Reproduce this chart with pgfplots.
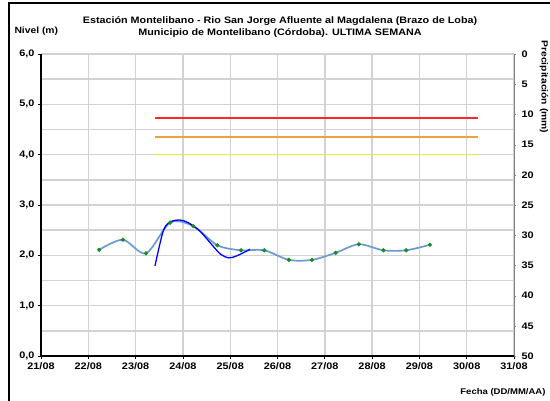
\documentclass[border=0pt]{standalone}
\usepackage{pgfplots}
\pgfplotsset{compat=1.18}
\usepackage{fontspec}
\setmainfont[FakeStretch=1.15]{Liberation Sans}

\definecolor{gridgray}{RGB}{210,210,210}
\definecolor{levelblue}{RGB}{105,155,210}
\definecolor{ptgreen}{RGB}{20,140,40}
\definecolor{alertred}{RGB}{255,40,40}
\definecolor{alertorange}{RGB}{240,160,60}
\definecolor{alertyellow}{RGB}{235,235,50}

\begin{document}
\begin{tikzpicture}
\clip (0,0) rectangle (550bp,401bp);
\useasboundingbox (0,0) rectangle (550bp,401bp);

\begin{axis}[
	scale only axis,
	width=473bp, height=302bp,
	at={(41bp,45bp)}, anchor=south west,
	xmin=0, xmax=10, ymin=0, ymax=6,
	xtick={0,1,...,10},
	xticklabels={21/08,22/08,23/08,24/08,25/08,26/08,27/08,28/08,29/08,30/08,31/08},
	ytick={0,1,...,6},
	minor ytick={0.5,1.5,...,5.5},
	grid=both,
	major grid style={gridgray, line width=1.4pt},
	minor grid style={gridgray, line width=1.4pt},
	axis x line*=bottom, axis y line*=left,
	axis line style={black, line width=1.3pt, -},
	tick align=outside,
	major tick length=3bp,
	minor tick length=0pt,
	tick style={black, line width=0.8pt},
	y tick label style={/pgf/number format/.cd, fixed, fixed zerofill, precision=1, use comma},
	/pgf/number format/assume math mode=true,
	tick label style={font=\fontsize{9.5}{10}\selectfont\bfseries},
	xticklabel shift=0bp,
]
% umbrales
\addplot [alertred, line width=1.3pt] coordinates {(2.41,4.73) (9.24,4.73)};
\addplot [alertorange, line width=1.3pt] coordinates {(2.41,4.35) (9.24,4.35)};
\addplot [alertyellow, line width=1.6pt] coordinates {(2.41,4.0) (9.24,4.0)};
% nivel observado
\addplot [levelblue, line width=1.7pt, smooth, mark=*, mark size=1.1pt,
	mark options={ptgreen, draw=ptgreen}] coordinates {
(1.23,2.11) (1.73,2.31) (2.22,2.04) (2.73,2.65) (3.22,2.58) (3.73,2.20)
(4.23,2.10) (4.72,2.10) (5.24,1.91) (5.73,1.91) (6.23,2.05) (6.72,2.22)
(7.24,2.10) (7.72,2.10) (8.22,2.21)
};
% pronostico
\addplot [blue, line width=1.3pt, smooth] coordinates {
(2.41,1.79) (2.59,2.50) (2.75,2.67) (2.94,2.70) (3.11,2.65) (3.36,2.48)
(3.64,2.18) (3.80,2.02) (3.97,1.95) (4.14,1.99) (4.42,2.12)
};
\end{axis}

\begin{axis}[
	scale only axis,
	width=473bp, height=302bp,
	at={(41bp,45bp)}, anchor=south west,
	xmin=0, xmax=10, ymin=0, ymax=50,
	y dir=reverse,
	axis x line=none,
	axis y line*=right,
	axis line style={gray, line width=0.8pt, -},
	ytick={0,5,...,50},
	tick align=outside,
	major tick length=2bp,
	tick style={gray},
	/pgf/number format/assume math mode=true,
	tick label style={font=\fontsize{9.5}{10}\selectfont\bfseries},
	yticklabel style={xshift=2bp},
]
\end{axis}

\draw[black, line width=1.3pt] (9bp,-10bp) rectangle (600bp,398bp);
\node[anchor=west, font=\fontsize{9}{10}\selectfont\bfseries] at (11bp,370bp) {Nivel (m)};
\node[font=\fontsize{9.4}{12}\selectfont\bfseries, align=center] at (280bp,374bp)
	{Estación Montelibano  - Rio San Jorge Afluente al Magdalena (Brazo de Loba)\\
	Municipio de Montelibano (Córdoba). ULTIMA SEMANA};
\node[anchor=east, font=\fontsize{8.3}{10}\selectfont\bfseries] at (549bp,9bp) {Fecha (DD/MM/AA)};
\node[anchor=west, rotate=-90, font=\fontsize{9}{10}\selectfont\bfseries] at (544bp,364bp) {Precipitación (mm)};
\end{tikzpicture}
\end{document}
